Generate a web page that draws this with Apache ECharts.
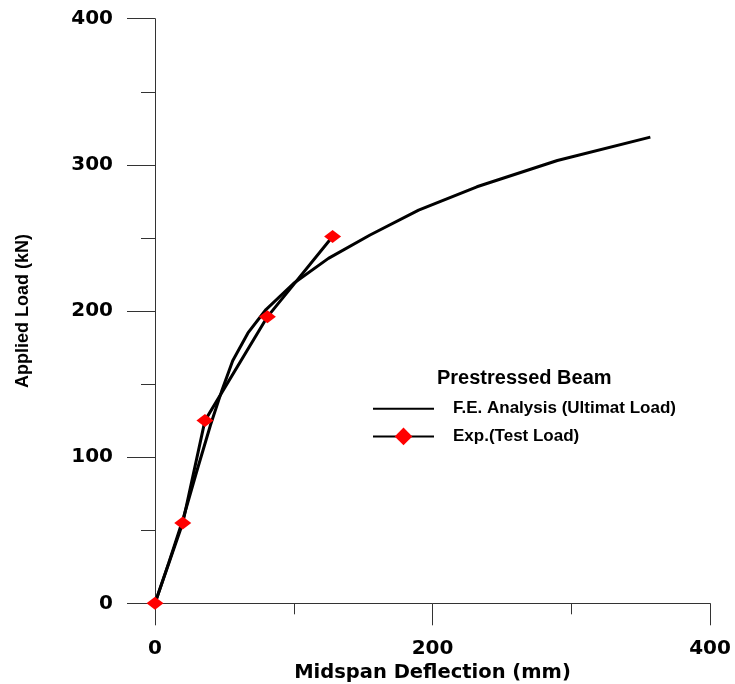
<!DOCTYPE html>
<html>
<head>
<meta charset="utf-8">
<script src="https://cdn.jsdelivr.net/npm/echarts@6/dist/echarts.min.js"></script>
<style>
  html, body { margin: 0; padding: 0; background: #fff; }
  #chart { width: 735px; height: 684px; }
</style>
</head>
<body>
<div id="chart"></div>
<script>
// F.E. analysis curve (deflection mm, load kN)
let feDeflection = [0, 10, 20, 30, 40, 48, 56, 67, 80, 100, 125, 155, 190, 232, 290, 357];
let feLoad = [0, 28, 57, 90, 122, 145, 166, 185, 201, 219, 236, 252, 269, 285, 303, 319];
// experimental test points
let expDeflection = [0, 20, 36, 81, 128];
let expLoad = [0, 55, 125, 196, 251];

let xTicks = [0, 200, 400];
let yTicks = [0, 100, 200, 300, 400];

let pair = (xs, ys) => xs.map((x, i) => [x, ys[i]]);

let tickFont = { fontFamily: 'DejaVu Sans', fontWeight: 'bold', fontSize: 20, color: '#000' };

let option = {
  animation: false,
  backgroundColor: '#fff',
  grid: { left: 155, right: 25, top: 18.7, bottom: 80.7, outerBoundsMode: 'none' },
  title: {
    text: 'Prestressed Beam',
    left: 437, top: 368, padding: 0,
    textStyle: { fontFamily: 'Liberation Sans', fontWeight: 'bold', fontSize: 20, color: '#000' }
  },
  legend: {
    orient: 'vertical',
    left: 372, top: 400, padding: 0,
    itemWidth: 61, itemHeight: 22, itemGap: 10,
    textStyle: { fontFamily: 'Liberation Sans', fontWeight: 'bold', fontSize: 17, color: '#000', padding: [0, 0, 0, 14] },
    data: [
      { name: 'F.E. Analysis (Ultimat Load)', itemStyle: { color: 'rgba(0,0,0,0)', borderWidth: 0 } },
      { name: 'Exp.(Test Load)' }
    ]
  },
  xAxis: {
    type: 'value', min: xTicks[0], max: xTicks[xTicks.length - 1], interval: 200,
    name: 'Midspan Deflection (mm)', nameLocation: 'middle', nameGap: 53,
    nameTextStyle: { fontFamily: 'DejaVu Sans', fontWeight: 'bold', fontSize: 19.5, color: '#000' },
    axisLine: { lineStyle: { color: '#333', width: 1 } },
    axisTick: { length: 22, lineStyle: { color: '#333' } },
    minorTick: { show: true, splitNumber: 2, length: 11, lineStyle: { color: '#333' } },
    splitLine: { show: false },
    axisLabel: Object.assign({ margin: 35 }, tickFont)
  },
  yAxis: {
    type: 'value', min: yTicks[0], max: yTicks[yTicks.length - 1], interval: 100,
    name: 'Applied Load (kN)', nameLocation: 'middle', nameGap: 123,
    nameTextStyle: { fontFamily: 'Liberation Sans', fontWeight: 'bold', fontSize: 18, color: '#000' },
    axisLine: { show: true, lineStyle: { color: '#333', width: 1 } },
    axisTick: { show: true, length: 28, lineStyle: { color: '#333' } },
    minorTick: { show: true, splitNumber: 2, length: 14, lineStyle: { color: '#333' } },
    splitLine: { show: false },
    axisLabel: Object.assign({ margin: 42 }, tickFont)
  },
  series: [
    {
      name: 'F.E. Analysis (Ultimat Load)',
      type: 'line',
      data: pair(feDeflection, feLoad),
      symbol: 'none',
      lineStyle: { color: '#000', width: 3 },
      itemStyle: { color: '#000' }
    },
    {
      name: 'Exp.(Test Load)',
      type: 'line',
      data: pair(expDeflection, expLoad),
      symbol: 'diamond',
      symbolSize: [17, 13],
      lineStyle: { color: '#000', width: 3 },
      itemStyle: { color: '#ff0000' },
      z: 3
    }
  ]
};

let chart = echarts.init(document.getElementById('chart'));
chart.setOption(option);
</script>
</body>
</html>
